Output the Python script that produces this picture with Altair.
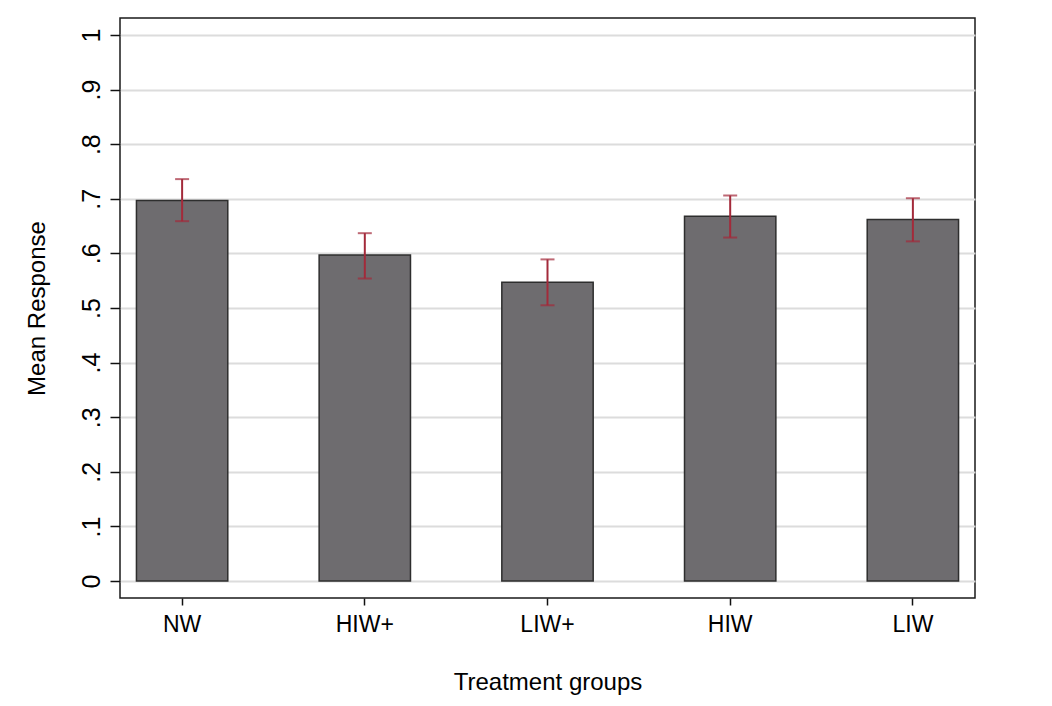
import altair as alt
import pandas as pd

groups = ["NW", "HIW+", "LIW+", "HIW", "LIW"]
means = [0.697, 0.597, 0.547, 0.668, 0.662]
ci_low = [0.659, 0.554, 0.505, 0.629, 0.622]
ci_high = [0.736, 0.637, 0.589, 0.706, 0.701]
y_ticks = [0, 0.1, 0.2, 0.3, 0.4, 0.5, 0.6, 0.7, 0.8, 0.9, 1.0]

df = pd.DataFrame({"group": groups, "mean": means, "lo": ci_low, "hi": ci_high})

FONT = "Liberation Sans"
ERR = "#a32a3a"

x = alt.X("group:N", sort=groups, title="Treatment groups",
          scale=alt.Scale(paddingInner=0.5, paddingOuter=0.09),
          axis=alt.Axis(labelAngle=0, labelFontSize=23, titleFontSize=24,
                        labelFont=FONT, titleFont=FONT, labelColor="black", titleColor="black",
                        titleFontWeight="normal",
                        tickSize=7, tickColor="#111", tickWidth=1.5, domain=False,
                        labelPadding=8, titlePadding=34, grid=False))

yscale = alt.Scale(domain=[-0.031, 1.031], nice=False, zero=False)

bars = alt.Chart(df).mark_bar(color="#6e6c6f", stroke="#2e2e2e", strokeWidth=1.5).encode(
    x=x,
    y=alt.Y("mean:Q", scale=yscale, title="Mean Response",
            axis=alt.Axis(values=y_ticks, format=".1~f",
                          labelExpr="datum.value > 0.05 && datum.value < 0.95 ? substring(datum.label, 1) : datum.label",
                          labelAngle=270, labelAlign="center", labelBaseline="bottom",
                          labelFontSize=25, titleFontSize=24, labelFont=FONT, titleFont=FONT,
                          titleFontWeight="normal",
                          labelColor="black", titleColor="black", labelPadding=6, titlePadding=30,
                          tickSize=10, tickColor="#111", tickWidth=1.5, domain=False,
                          grid=True, gridColor="#dcdcdc", gridWidth=2)),
    y2=alt.datum(0),
)

rules = alt.Chart(df).mark_rule(color=ERR, strokeWidth=2).encode(
    x=alt.X("group:N", sort=groups),
    y=alt.Y("lo:Q", scale=yscale),
    y2="hi:Q",
)

caps_lo = alt.Chart(df).mark_tick(color=ERR, thickness=2, size=14, orient="horizontal").encode(
    x=alt.X("group:N", sort=groups),
    y=alt.Y("lo:Q", scale=yscale),
)
caps_hi = alt.Chart(df).mark_tick(color=ERR, thickness=2, size=14, orient="horizontal").encode(
    x=alt.X("group:N", sort=groups),
    y=alt.Y("hi:Q", scale=yscale),
)

chart = alt.layer(bars, rules, caps_lo, caps_hi).properties(
    width=855, height=580,
    autosize=alt.AutoSizeParams(type="none"),
    padding={"left": 112, "top": 10, "right": 60, "bottom": 100},
    background="white",
).configure_view(stroke="#1a1a1a", strokeWidth=1.5)

chart.save("out.html", embed_options={"renderer": "svg", "actions": False})
